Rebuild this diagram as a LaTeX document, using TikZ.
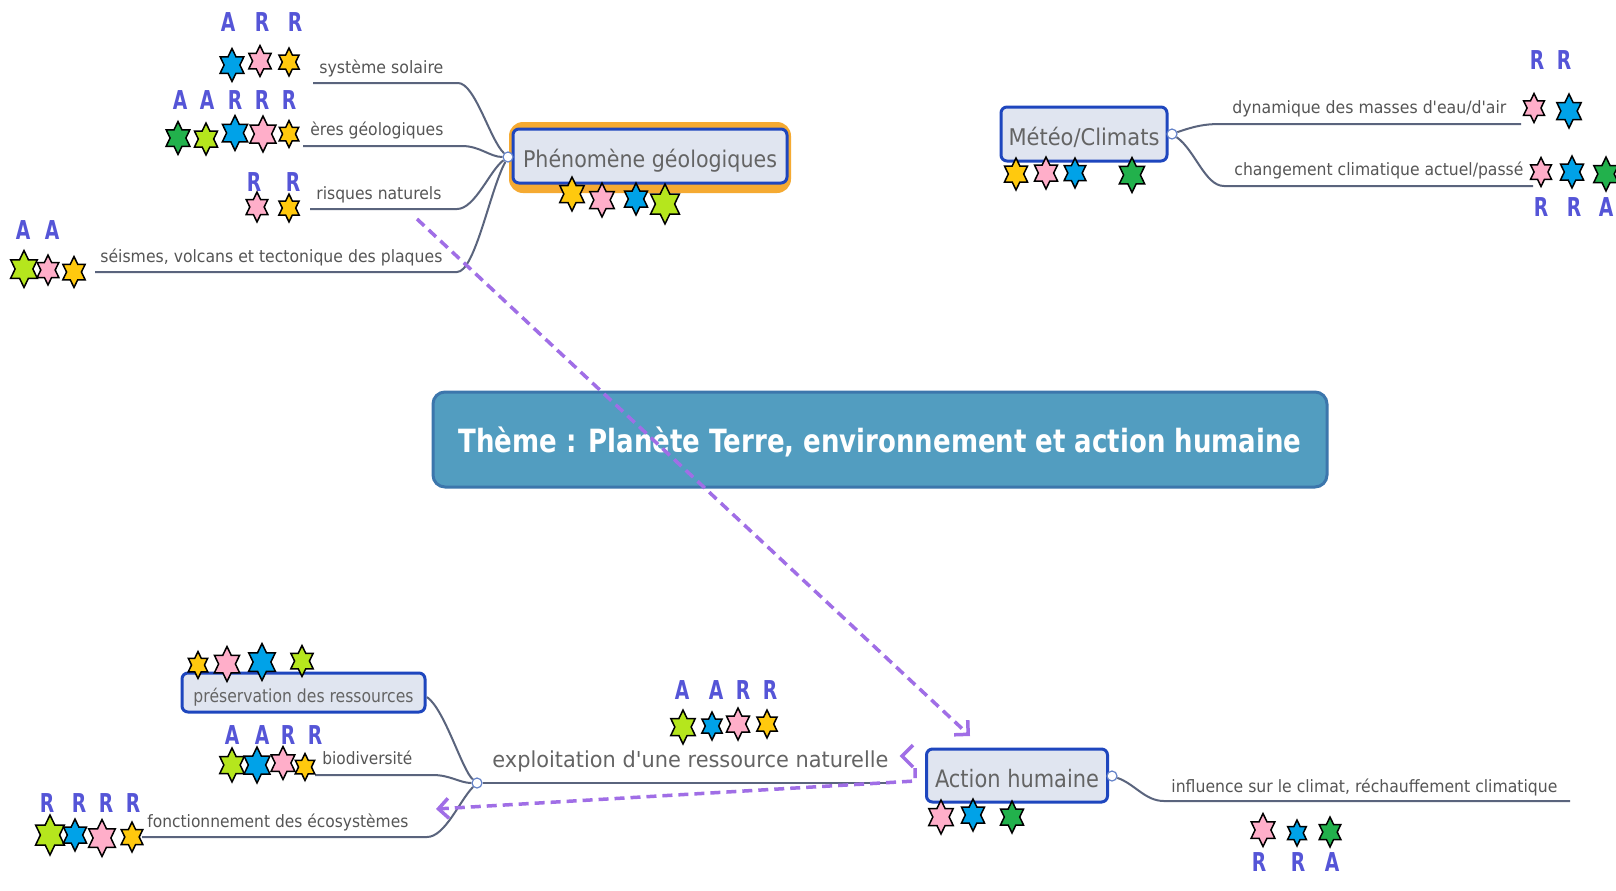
\documentclass[tikz,border=0pt]{standalone}
\usepackage{fontspec}
\setmainfont{DejaVu Sans}[Ligatures=TeXOff]
\usepackage{graphicx}
\usetikzlibrary{arrows.meta}
\definecolor{cblue}{HTML}{00A2E8}
\definecolor{cpink}{HTML}{FFAEC9}
\definecolor{cyel}{HTML}{FFC90E}
\definecolor{clime}{HTML}{B5E61D}
\definecolor{cgreen}{HTML}{22B14C}
\definecolor{cletter}{RGB}{85,85,215}
\definecolor{ctxt}{RGB}{100,100,100}
\definecolor{csub}{RGB}{85,85,85}
\definecolor{cline}{RGB}{90,100,125}
\definecolor{cborder}{RGB}{30,70,190}
\definecolor{cfill}{RGB}{224,229,240}
\definecolor{ctitle}{RGB}{82,157,192}
\definecolor{ctitleb}{RGB}{60,118,172}
\definecolor{crel}{RGB}{160,110,230}
\definecolor{corange}{RGB}{245,170,50}
\definecolor{ccirc}{RGB}{100,130,200}
\newcommand\fitw[2]{\resizebox{#1}{\height}{#2}}
\newcommand\nar[1]{\scalebox{0.72}[1]{#1}}
\tikzset{
 br/.style={draw=cline, line width=1pt},
 topic/.style={draw=cborder, line width=1.5pt, fill=cfill, rounded corners=3pt, inner sep=0pt, text=ctxt},
 lbl/.style={inner sep=0pt, text=csub, font=\fontsize{8.5}{10}\selectfont, anchor=base west},
 ar/.style={inner sep=0pt, text=cletter, font=\bfseries\fontsize{13}{13}\selectfont},
 knob/.style={circle, draw=ccirc, fill=white, line width=0.6pt, minimum size=5pt, inner sep=0pt},
 rel/.style={draw=crel, line width=1.75pt, dash pattern=on 5pt off 3pt},
 reltip/.style={-{Straight Barb[length=5pt,width=10pt]}},
 pics/hs/.style 2 args={code={\draw[scale=#2, line width=0.75pt, line join=miter, fill=#1]
   (0,1) -- (0.24,0.5) -- (0.72,0.5) -- (0.48,0) -- (0.72,-0.5) -- (0.24,-0.5) -- (0,-1)
   -- (-0.24,-0.5) -- (-0.72,-0.5) -- (-0.48,0) -- (-0.72,0.5) -- (-0.24,0.5) -- cycle;}},
}
\begin{document}
\begin{tikzpicture}[x=0.5pt,y=-0.5pt]
\fill[white] (0,0) rectangle (1616,890);
\useasboundingbox (0,0) rectangle (1616,890);

% ---------- title ----------
\node[draw=ctitleb, line width=1.5pt, fill=ctitle, rounded corners=6pt, minimum width=447pt, text height=30pt, text depth=17.5pt, inner sep=0pt, text=white, font=\bfseries\fontsize{16}{18}\selectfont] (title) at (880,439.5) {\fitw{421.5pt}{Thème : Planète Terre, environnement et action humaine}};

% ---------- Phenomene geologiques ----------
\fill[corange, rounded corners=7pt] (509,122) rectangle (791,193);
\node[topic, minimum width=137pt, text height=19pt, text depth=8pt, font=\fontsize{11.5}{13}\selectfont] (phen) at (650,156) {\fitw{127pt}{Phénomène géologiques}};
\node[knob] (kphen) at (508,157) {};
\coordinate (sysE) at (458,83);  \coordinate (sysS) at (313,83);
\coordinate (eresE) at (462,146); \coordinate (eresS) at (303,146);
\coordinate (risE) at (457,209); \coordinate (risS) at (310,209);
\coordinate (seiE) at (457,272); \coordinate (seiS) at (95,272);
\draw[br] (kphen) .. controls (490,140) and (475,83) .. (sysE) -- (sysS);
\draw[br] (kphen) .. controls (490,157) and (480,146) .. (eresE) -- (eresS);
\draw[br] (kphen) .. controls (490,170) and (475,209) .. (risE) -- (risS);
\draw[br] (kphen) .. controls (490,190) and (475,272) .. (seiE) -- (seiS);
\node[lbl] (tsys) at (319,73) {\fitw{62pt}{système solaire}};
\node[lbl] (teres) at (310,135) {\fitw{66.5pt}{ères géologiques}};
\node[lbl] (tris) at (316,199) {\fitw{62.5pt}{risques naturels}};
\node[lbl] (tsei) at (100,262) {\fitw{171pt}{séismes, volcans et tectonique des plaques}};

\node[ar] (a1) at (228,22) {\nar{A}};
\node[ar] (a2) at (262,22) {\nar{R}};
\node[ar] (a3) at (295,22) {\nar{R}};
\node[ar] (a4) at (180,100) {\nar{A}};
\node[ar] (a5) at (207,100) {\nar{A}};
\node[ar] (a6) at (235,100) {\nar{R}};
\node[ar] (a7) at (262,100) {\nar{R}};
\node[ar] (a8) at (289,100) {\nar{R}};
\node[ar] (a9) at (254,182) {\nar{R}};
\node[ar] (a10) at (293,182) {\nar{R}};
\node[ar] (a11) at (23,230) {\nar{A}};
\node[ar] (a12) at (52,230) {\nar{A}};

\pic at (232,65) {hs={cblue}{16.5}};
\pic at (260,61) {hs={cpink}{15.5}};
\pic at (289,62) {hs={cyel}{14}};
\pic at (178,138) {hs={cgreen}{16.5}};
\pic at (206,139) {hs={clime}{16}};
\pic at (235,133) {hs={cblue}{17.5}};
\pic at (263,134) {hs={cpink}{18}};
\pic at (289,134) {hs={cyel}{13.5}};
\pic at (257,207) {hs={cpink}{15}};
\pic at (289,208) {hs={cyel}{14}};
\pic at (24,269) {hs={clime}{18.5}};
\pic at (48,270) {hs={cpink}{15}};
\pic at (74,272) {hs={cyel}{15.5}};
\pic at (572,194) {hs={cyel}{17}};
\pic at (602,200) {hs={cpink}{17}};
\pic at (636,199) {hs={cblue}{16}};
\pic at (665,204) {hs={clime}{20}};

% ---------- Meteo/Climats ----------
\node[topic, minimum width=83pt, text height=19pt, text depth=8pt, font=\fontsize{11.5}{13}\selectfont] (met) at (1084,134) {\fitw{75.5pt}{Météo/Climats}};
\node[knob] (kmet) at (1172,134) {};
\coordinate (dynE) at (1220,124); \coordinate (dynS) at (1521,124);
\coordinate (chgE) at (1224,186); \coordinate (chgS) at (1533,186);
\draw[br] (kmet) .. controls (1195,126) and (1205,124) .. (dynE) -- (dynS);
\draw[br] (kmet) .. controls (1195,150) and (1205,186) .. (chgE) -- (chgS);
\node[lbl] (tdyn) at (1232,113) {\fitw{137pt}{dynamique des masses d'eau/d'air}};
\node[lbl] (tchg) at (1234,175) {\fitw{144.5pt}{changement climatique actuel/passé}};
\node[ar] (b1) at (1537,60) {\nar{R}};
\node[ar] (b2) at (1564,60) {\nar{R}};
\node[ar] (b3) at (1541,207) {\nar{R}};
\node[ar] (b4) at (1574,207) {\nar{R}};
\node[ar] (b5) at (1606,207) {\nar{A}};
\pic at (1016,174) {hs={cyel}{16}};
\pic at (1046,173) {hs={cpink}{16}};
\pic at (1075,173) {hs={cblue}{15}};
\pic at (1132,175) {hs={cgreen}{17.5}};
\pic at (1534,108) {hs={cpink}{14.5}};
\pic at (1569,111) {hs={cblue}{17}};
\pic at (1541,172) {hs={cpink}{14.5}};
\pic at (1572,172) {hs={cblue}{16}};
\pic at (1606,174) {hs={cgreen}{17}};

% ---------- Action humaine ----------
\node[topic, minimum width=90.5pt, text height=19pt, text depth=7.5pt, font=\fontsize{12}{14}\selectfont] (act) at (1017,775.5) {\fitw{82pt}{Action humaine}};
\node[knob] (kact) at (1112,776) {};
\coordinate (inE) at (1164,801); \coordinate (inS) at (1570,801);
\draw[br] (kact) .. controls (1135,784) and (1145,801) .. (inE) -- (inS);
\node[lbl] (tin) at (1171,792) {\fitw{193pt}{influence sur le climat, réchauffement climatique}};
\node[ar] (c1) at (1259,862) {\nar{R}};
\node[ar] (c2) at (1298,862) {\nar{R}};
\node[ar] (c3) at (1332,862) {\nar{A}};
\pic at (941,817) {hs={cpink}{17}};
\pic at (973,815) {hs={cblue}{16}};
\pic at (1012,817) {hs={cgreen}{16}};
\pic at (1263,830) {hs={cpink}{16.5}};
\pic at (1297,833) {hs={cblue}{13}};
\pic at (1330,832) {hs={cgreen}{15}};

% ---------- lower left ----------
\node[topic, minimum width=121.5pt, text height=14.5pt, text depth=5pt, font=\fontsize{9}{11}\selectfont] (pres) at (303.5,692.5) {\fitw{110pt}{préservation des ressources}};
\node[knob] (klow) at (477,783) {};
\coordinate (presE) at (427,697);
\coordinate (bioE) at (433,775); \coordinate (bioS) at (315,775);
\coordinate (fonE) at (427,837); \coordinate (fonS) at (142,837);
\coordinate (expE) at (892,783);
\draw[br] (klow) .. controls (462,770) and (445,710) .. (presE);
\draw[br] (klow) .. controls (460,783) and (450,775) .. (bioE) -- (bioS);
\draw[br] (klow) .. controls (460,800) and (445,837) .. (fonE) -- (fonS);
\draw[br] (klow) -- (expE);
\node[lbl] (tbio) at (322,764) {\fitw{45pt}{biodiversité}};
\node[lbl] (tfon) at (147,827) {\fitw{130.5pt}{fonctionnement des écosystèmes}};
\node[lbl, font=\fontsize{11}{13}\selectfont, text=ctxt] (texp) at (492,767) {\fitw{198pt}{exploitation d'une ressource naturelle}};
\node[ar] (d1) at (232,735) {\nar{A}};
\node[ar] (d2) at (262,735) {\nar{A}};
\node[ar] (d3) at (288,735) {\nar{R}};
\node[ar] (d4) at (315,735) {\nar{R}};
\node[ar] (e1) at (47,803) {\nar{R}};
\node[ar] (e2) at (79,803) {\nar{R}};
\node[ar] (e3) at (106,803) {\nar{R}};
\node[ar] (e4) at (133,803) {\nar{R}};
\node[ar] (f1) at (682,690) {\nar{A}};
\node[ar] (f2) at (716,690) {\nar{A}};
\node[ar] (f3) at (743,690) {\nar{R}};
\node[ar] (f4) at (770,690) {\nar{R}};
\pic at (198,665) {hs={cyel}{13.5}};
\pic at (227,664) {hs={cpink}{17.5}};
\pic at (262,662) {hs={cblue}{18.5}};
\pic at (302,661) {hs={clime}{15.5}};
\pic at (232,765) {hs={clime}{17}};
\pic at (257,765) {hs={cblue}{18}};
\pic at (283,763) {hs={cpink}{16.5}};
\pic at (305,767) {hs={cyel}{13.5}};
\pic at (50,835) {hs={clime}{20}};
\pic at (75,835) {hs={cblue}{16}};
\pic at (102,838) {hs={cpink}{18.5}};
\pic at (132,837) {hs={cyel}{15}};
\pic at (683,727) {hs={clime}{17}};
\pic at (712,726) {hs={cblue}{14}};
\pic at (738,724) {hs={cpink}{16}};
\pic at (767,724) {hs={cyel}{14}};

% ---------- relationship arrows ----------
\coordinate (r1s) at (417,219); \coordinate (r1e) at (970,736);
\draw[rel, reltip] (r1s) -- (r1e);
\coordinate (r2s) at (915,768); \coordinate (r2m) at (915,781); \coordinate (r2e) at (436,809);
\draw[rel, reltip] (r2s) -- (r2m) -- (r2e);
\coordinate (chA) at (913,745); \coordinate (chB) at (902,756); \coordinate (chC) at (913,767);
\draw[crel, line width=1.75pt] (chA) -- (chB) -- (chC);
\end{tikzpicture}
\end{document}
